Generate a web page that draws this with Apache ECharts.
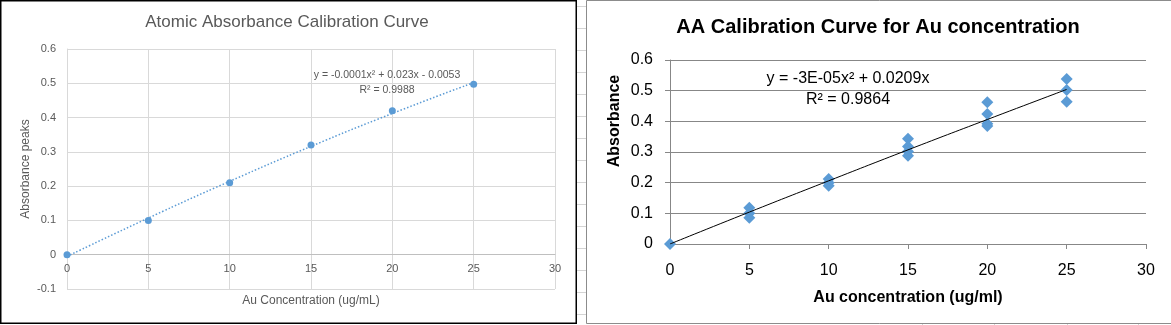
<!DOCTYPE html>
<html><head><meta charset="utf-8">
<script src="https://cdn.jsdelivr.net/npm/echarts@6/dist/echarts.min.js"></script>
<style>html,body{margin:0;padding:0;background:#fff;overflow:hidden}#c{width:1171px;height:325px}</style>
</head><body><div id="c"></div>
<script>
// ---- Left chart data ----
const leftTitle = 'Atomic Absorbance Calibration Curve';
const leftXName = 'Au Concentration (ug/mL)';
const leftYName = 'Absorbance peaks';
const leftEquation = 'y = -0.0001x² + 0.023x - 0.0053';
const leftR2 = 'R² = 0.9988';
const leftConc = [0, 5, 10, 15, 20, 25];
const leftAbs = [0, 0.1, 0.21, 0.32, 0.42, 0.497];
const leftTrendConc = [0, 5, 10, 15, 20, 25];
const leftTrendAbs = [-0.005, 0.107, 0.214, 0.316, 0.412, 0.502];

// ---- Right chart data ----
const rightTitle = 'AA Calibration Curve for Au concentration';
const rightXName = 'Au concentration (ug/ml)';
const rightYName = 'Absorbance';
const rightEquation = 'y = -3E-05x² + 0.0209x';
const rightR2 = 'R² = 0.9864';
const rightConc = [0, 5, 5, 5, 10, 10, 10, 15, 15, 15, 15, 20, 20, 20, 20, 25, 25, 25];
const rightAbs = [0, 0.118, 0.100, 0.086, 0.212, 0.200, 0.190, 0.343, 0.318, 0.302, 0.288, 0.462, 0.424, 0.392, 0.385, 0.538, 0.502, 0.464];
const rightTrendConc = [0, 5, 10, 15, 20, 25];
const rightTrendAbs = [0, 0.104, 0.206, 0.307, 0.406, 0.504];

const pair = (xs, ys) => xs.map((x, i) => [x, ys[i]]);
const FF = '"Liberation Sans", Arial, sans-serif';
const BLUE = '#5b9bd5';

const chart = echarts.init(document.getElementById('c'), null, {renderer: 'canvas'});

// decorative spreadsheet lines in the gap between the two charts
const sheetLines = [];
for (let y = 6; y < 325; y += 22) {
  sheetLines.push({type: 'line', shape: {x1: 577, y1: y + 0.5, x2: 586, y2: y + 0.5}, style: {stroke: '#d4d4d4', lineWidth: 1}, silent: true});
}
[922, 994, 1067, 1138].forEach(x => sheetLines.push({type: 'line', shape: {x1: x + 0.5, y1: 324, x2: x + 0.5, y2: 325}, style: {stroke: '#d4d4d4', lineWidth: 1}, silent: true}));

// left plot: full range -0.1..0.6; the x axis sits at y = 0, i.e. 6/7 of the plot height
const LEFT_TOP = 49, LEFT_H = 240, LEFT_YMIN = -0.1, LEFT_YMAX = 0.6;
const leftZeroH = LEFT_H * LEFT_YMAX / (LEFT_YMAX - LEFT_YMIN);

const option = {
  backgroundColor: '#ffffff',
  animation: false,
  grid: [
    {left: 67, top: LEFT_TOP, width: 488, height: LEFT_H, outerBoundsMode: 'none'},
    {left: 670, top: 60, width: 476, height: 184, outerBoundsMode: 'none'},
    {left: 67, top: LEFT_TOP, width: 488, height: leftZeroH, outerBoundsMode: 'none'}
  ],
  xAxis: [
    {
      gridIndex: 0, type: 'value', min: 0, max: 30, interval: 5,
      axisLine: {show: false}, axisTick: {show: false}, axisLabel: {show: false},
      splitLine: {show: true, lineStyle: {color: '#d9d9d9', width: 1}}
    },
    {
      gridIndex: 1, type: 'value', min: 0, max: 30, interval: 5,
      axisLine: {show: true, lineStyle: {color: '#878787', width: 1}},
      axisTick: {show: true, inside: false, length: 5, lineStyle: {color: '#878787'}},
      axisLabel: {color: '#000', fontSize: 16, fontFamily: FF, margin: 19},
      splitLine: {show: false},
      name: rightXName, nameLocation: 'middle', nameGap: 46,
      nameTextStyle: {color: '#000', fontSize: 16, fontWeight: 'bold', fontFamily: FF}
    },
    {
      gridIndex: 2, type: 'value', min: 0, max: 30, interval: 5,
      axisLine: {show: true, lineStyle: {color: '#bfbfbf', width: 1}},
      axisTick: {show: false},
      axisLabel: {color: '#595959', fontSize: 11, fontFamily: FF, margin: 9},
      splitLine: {show: false},
      name: leftXName, nameLocation: 'middle', nameGap: 40,
      nameTextStyle: {color: '#595959', fontSize: 12, fontFamily: FF}
    }
  ],
  yAxis: [
    {
      gridIndex: 0, type: 'value', min: LEFT_YMIN, max: LEFT_YMAX, interval: 0.1,
      axisLine: {show: true, lineStyle: {color: '#d9d9d9', width: 1}},
      axisTick: {show: false},
      axisLabel: {color: '#595959', fontSize: 11, fontFamily: FF, margin: 11},
      splitLine: {show: true, lineStyle: {color: '#d9d9d9', width: 1}},
      name: leftYName, nameLocation: 'middle', nameGap: 35, nameRotate: 90,
      nameTextStyle: {color: '#595959', fontSize: 12, fontFamily: FF}
    },
    {
      gridIndex: 1, type: 'value', min: 0, max: 0.6, interval: 0.1,
      axisLine: {show: true, lineStyle: {color: '#878787', width: 1}},
      axisTick: {show: true, inside: false, length: 5, lineStyle: {color: '#878787'}},
      axisLabel: {color: '#000', fontSize: 16, fontFamily: FF, margin: 17},
      splitLine: {show: true, lineStyle: {color: '#878787', width: 1}}
    },
    {
      gridIndex: 2, type: 'value', min: 0, max: LEFT_YMAX, interval: 0.1, show: false
    }
  ],
  series: [
    {
      type: 'line', xAxisIndex: 0, yAxisIndex: 0, name: 'Left trend',
      data: pair(leftTrendConc, leftTrendAbs), smooth: true, showSymbol: false, symbol: 'none',
      lineStyle: {color: BLUE, width: 1.5, type: [1.5, 2]}, z: 2, silent: true
    },
    {
      type: 'scatter', xAxisIndex: 0, yAxisIndex: 0, name: 'Left data',
      data: pair(leftConc, leftAbs), symbol: 'circle', symbolSize: 7,
      itemStyle: {color: BLUE, opacity: 1}, z: 3
    },
    {
      type: 'line', xAxisIndex: 1, yAxisIndex: 1, name: 'Right trend',
      data: pair(rightTrendConc, rightTrendAbs), smooth: true, showSymbol: false, symbol: 'none',
      lineStyle: {color: '#000', width: 1}, z: 4, silent: true
    },
    {
      type: 'scatter', xAxisIndex: 1, yAxisIndex: 1, name: 'Right data',
      data: pair(rightConc, rightAbs), symbol: 'diamond', symbolSize: 12,
      itemStyle: {color: BLUE, opacity: 1}, z: 3, clip: false
    }
  ],
  graphic: [
    ...sheetLines,
    {type: 'rect', shape: {x: 0.75, y: 0.75, width: 575.5, height: 322.5}, style: {fill: 'none', stroke: '#000', lineWidth: 1.5}, silent: true, z: 10},
    {type: 'rect', shape: {x: 586.5, y: 0.5, width: 700, height: 323}, style: {fill: 'none', stroke: '#8c8c8c', lineWidth: 1}, silent: true, z: 10},
    {type: 'text', x: 287, y: 22, style: {text: leftTitle, fill: '#595959', fontSize: 17, fontFamily: FF, align: 'center', verticalAlign: 'middle'}, z: 10},
    {type: 'text', x: 387, y: 75, style: {text: leftEquation, fill: '#595959', fontSize: 10.5, fontFamily: FF, align: 'center', verticalAlign: 'middle'}, z: 10},
    {type: 'text', x: 387, y: 90, style: {text: leftR2, fill: '#595959', fontSize: 10.5, fontFamily: FF, align: 'center', verticalAlign: 'middle'}, z: 10},
    {type: 'text', x: 878, y: 27, style: {text: rightTitle, fill: '#000', fontSize: 20, fontWeight: 'bold', fontFamily: FF, align: 'center', verticalAlign: 'middle'}, z: 10},
    {type: 'text', x: 848, y: 79, style: {text: rightEquation, fill: '#000', fontSize: 16, fontFamily: FF, align: 'center', verticalAlign: 'middle'}, z: 10},
    {type: 'text', x: 848, y: 100, style: {text: rightR2, fill: '#000', fontSize: 16, fontFamily: FF, align: 'center', verticalAlign: 'middle'}, z: 10},
    {type: 'text', x: 615, y: 121, rotation: Math.PI / 2, style: {text: rightYName, fill: '#000', fontSize: 16, fontWeight: 'bold', fontFamily: FF, align: 'center', verticalAlign: 'middle'}, z: 10}
  ]
};
chart.setOption(option);
</script>
</body></html>
